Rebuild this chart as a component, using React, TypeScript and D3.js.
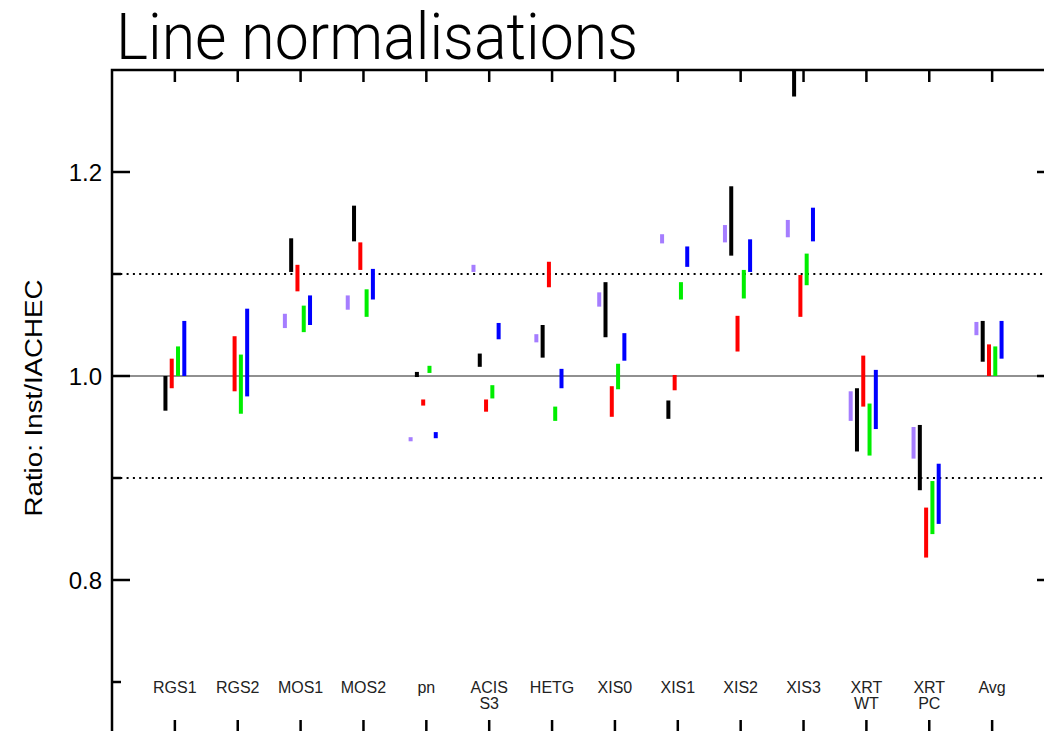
import { useEffect, useRef } from 'react';
import * as d3 from 'd3';

// instrument groups (line breaks -> second label line)
const categories = ['RGS1', 'RGS2', 'MOS1', 'MOS2', 'pn', 'ACIS\nS3', 'HETG', 'XIS0', 'XIS1', 'XIS2', 'XIS3', 'XRT\nWT', 'XRT\nPC', 'Avg'];

type Range = [number, number] | null;

// [low, high] ratio ranges per instrument, one array per line
const purpleVals: Range[] = [
  null, null, [1.047, 1.061], [1.065, 1.079], [0.936, 0.94], [1.102, 1.109], [1.033, 1.041],
  [1.068, 1.082], [1.13, 1.139], [1.131, 1.148], [1.136, 1.153], [0.956, 0.985], [0.919, 0.95], [1.04, 1.053],
];
const blackVals: Range[] = [
  [0.966, 1.0], null, [1.102, 1.135], [1.132, 1.167], [0.999, 1.004], [1.009, 1.022], [1.018, 1.05],
  [1.038, 1.092], [0.958, 0.976], [1.118, 1.186], [1.274, 1.32], [0.926, 0.988], [0.888, 0.952], [1.014, 1.054],
];
const redVals: Range[] = [
  [0.988, 1.017], [0.985, 1.039], [1.083, 1.109], [1.104, 1.131], [0.971, 0.977], [0.965, 0.977], [1.087, 1.112],
  [0.96, 0.99], [0.986, 1.001], [1.024, 1.059], [1.058, 1.099], [0.97, 1.02], [0.822, 0.871], [1.0, 1.031],
];
const greenVals: Range[] = [
  [1.0, 1.029], [0.963, 1.021], [1.043, 1.069], [1.058, 1.085], [1.003, 1.01], [0.978, 0.991], [0.956, 0.97],
  [0.987, 1.012], [1.075, 1.092], [1.076, 1.104], [1.089, 1.12], [0.922, 0.973], [0.845, 0.897], [1.0, 1.029],
];
const blueVals: Range[] = [
  [1.0, 1.054], [0.98, 1.066], [1.05, 1.079], [1.075, 1.105], [0.939, 0.945], [1.036, 1.052], [0.988, 1.007],
  [1.015, 1.042], [1.107, 1.127], [1.102, 1.134], [1.132, 1.165], [0.948, 1.006], [0.855, 0.914], [1.017, 1.054],
];

const series = [
  { color: '#a57dff', offset: -0.25, values: purpleVals },
  { color: '#000000', offset: -0.15, values: blackVals },
  { color: '#ff0000', offset: -0.05, values: redVals },
  { color: '#00ee00', offset: 0.05, values: greenVals },
  { color: '#0000ff', offset: 0.15, values: blueVals },
];

const majorTicks = [0.8, 1.0, 1.2];
const minorTicks = [0.7, 0.9, 1.1];
const dottedLevels = [0.9, 1.1];

export default function App() {
  const svgRef = useRef<SVGSVGElement | null>(null);

  useEffect(() => {
    if (!svgRef.current) return;
    const svg = d3.select(svgRef.current);
    svg.selectAll('*').remove();

    const W = 1044;
    const H = 731;
    const left = 112, right = 1055, top = 70, bottom = 733;

    const x = d3.scaleLinear().domain([0, categories.length + 1]).range([left, right]);
    const y = d3.scaleLinear().domain([0.65, 1.3]).range([bottom, top]);

    svg.attr('width', W).attr('height', H);

    svg.append('defs').append('clipPath').attr('id', 'plot-clip')
      .append('rect').attr('x', left).attr('y', top).attr('width', right - left).attr('height', bottom - top);

    // title
    svg.append('text')
      .attr('x', 116).attr('y', 59)
      .attr('font-family', 'Roboto, "Liberation Sans", sans-serif')
      .attr('font-weight', 300)
      .attr('font-size', 64)
      .attr('textLength', 522)
      .attr('lengthAdjust', 'spacingAndGlyphs')
      .attr('fill', '#000')
      .text('Line normalisations');

    // reference lines
    svg.append('line')
      .attr('x1', left).attr('x2', right)
      .attr('y1', y(1.0)).attr('y2', y(1.0))
      .attr('stroke', '#222').attr('stroke-width', 1.2);

    svg.selectAll('line.dotted').data(dottedLevels).join('line')
      .attr('class', 'dotted')
      .attr('x1', left + 2).attr('x2', right)
      .attr('y1', (d) => y(d)).attr('y2', (d) => y(d))
      .attr('stroke', '#000').attr('stroke-width', 2.2)
      .attr('stroke-dasharray', '2 4.3');

    // bars
    const plot = svg.append('g').attr('clip-path', 'url(#plot-clip)');
    series.forEach((s) => {
      const rows = s.values
        .map((v, i) => ({ v, i }))
        .filter((d): d is { v: [number, number]; i: number } => d.v !== null);
      plot.selectAll(null).data(rows).join('rect')
        .attr('x', (d) => x(d.i + 1 + s.offset) - 2)
        .attr('width', 4)
        .attr('y', (d) => y(d.v[1]))
        .attr('height', (d) => y(d.v[0]) - y(d.v[1]))
        .attr('fill', s.color);
    });

    // frame
    svg.append('rect')
      .attr('x', left).attr('y', top)
      .attr('width', right - left).attr('height', bottom - top)
      .attr('fill', 'none').attr('stroke', '#000').attr('stroke-width', 2.5);

    // x ticks top and bottom
    const xt = d3.range(1, categories.length + 1);
    svg.selectAll('line.xt-top').data(xt).join('line')
      .attr('x1', (d) => x(d)).attr('x2', (d) => x(d))
      .attr('y1', top).attr('y2', top + 12)
      .attr('stroke', '#000').attr('stroke-width', 2.5);
    svg.selectAll('line.xt-bot').data(xt).join('line')
      .attr('x1', (d) => x(d)).attr('x2', (d) => x(d))
      .attr('y1', bottom).attr('y2', bottom - 13)
      .attr('stroke', '#000').attr('stroke-width', 2.5);

    // y ticks left and right
    const yTick = (vals: number[], len: number) => {
      vals.forEach((v) => {
        svg.append('line').attr('x1', left).attr('x2', left + len)
          .attr('y1', y(v)).attr('y2', y(v)).attr('stroke', '#000').attr('stroke-width', 2.5);
        svg.append('line').attr('x1', right).attr('x2', right - len)
          .attr('y1', y(v)).attr('y2', y(v)).attr('stroke', '#000').attr('stroke-width', 2.5);
      });
    };
    yTick(majorTicks, 18);
    yTick(minorTicks, 9);

    svg.selectAll('text.ylab').data(majorTicks).join('text')
      .attr('x', 102).attr('y', (d) => y(d))
      .attr('dy', '0.36em')
      .attr('text-anchor', 'end')
      .attr('font-family', '"Liberation Sans", Arial, sans-serif')
      .attr('font-size', 24)
      .attr('fill', '#000')
      .text((d) => d3.format('.1f')(d));

    // y axis title
    svg.append('text')
      .attr('transform', 'translate(42,398) rotate(-90)')
      .attr('text-anchor', 'middle')
      .attr('font-family', '"Liberation Sans", Arial, sans-serif')
      .attr('font-size', 23)
      .attr('textLength', 237)
      .attr('lengthAdjust', 'spacingAndGlyphs')
      .attr('fill', '#000')
      .text('Ratio: Inst/IACHEC');

    // category labels
    categories.forEach((c, i) => {
      const t = svg.append('text')
        .attr('x', x(i + 1)).attr('y', 692.5)
        .attr('text-anchor', 'middle')
        .attr('font-family', '"Liberation Sans", Arial, sans-serif')
        .attr('font-size', 16)
        .attr('fill', '#222');
      c.split('\n').forEach((line, k) => {
        t.append('tspan').attr('x', x(i + 1)).attr('dy', k === 0 ? 0 : 16.6).text(line);
      });
    });
  }, []);

  return <svg ref={svgRef} style={{ position: 'absolute', left: 0, top: 0, display: 'block' }} />;
}
